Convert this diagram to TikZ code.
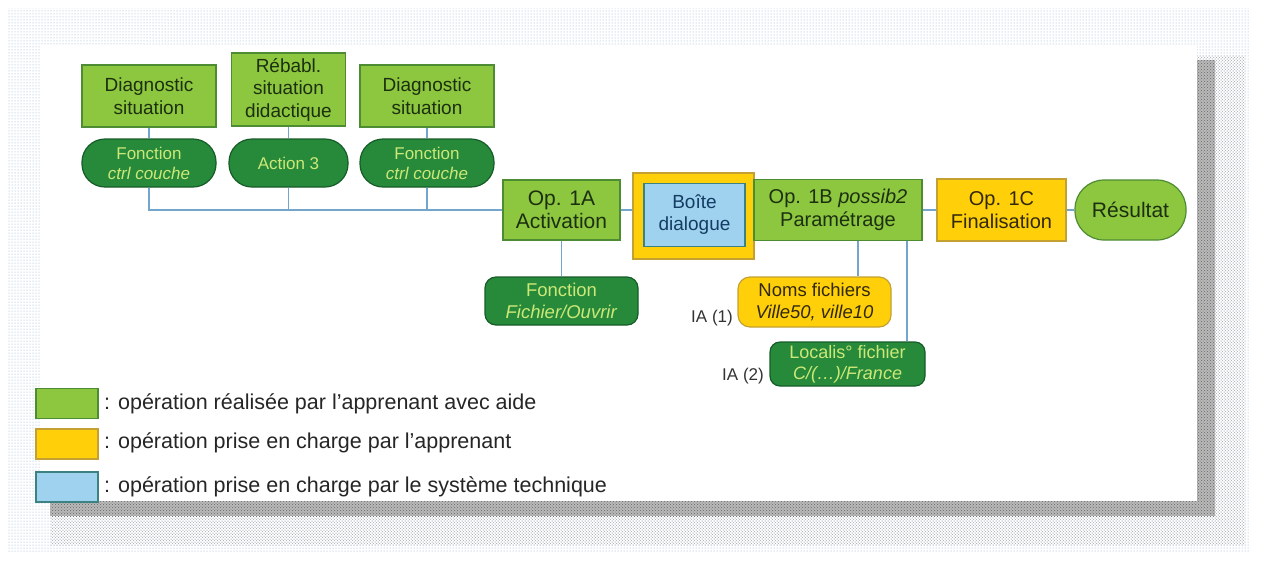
\documentclass[tikz,border=0pt]{standalone}
\usepackage{fontspec}
\setmainfont{Liberation Sans}
\usetikzlibrary{patterns}
\definecolor{lg}{RGB}{141,198,63}
\definecolor{lgborder}{RGB}{78,140,52}
\definecolor{lgtext}{RGB}{28,48,16}
\definecolor{dg}{RGB}{38,138,58}
\definecolor{dgborder}{RGB}{22,92,40}
\definecolor{dgtext}{RGB}{205,232,120}
\definecolor{yl}{RGB}{255,208,10}
\definecolor{ylborder}{RGB}{196,160,50}
\definecolor{yltext}{RGB}{50,40,10}
\definecolor{bl}{RGB}{158,210,238}
\definecolor{blborder}{RGB}{60,130,130}
\definecolor{bltext}{RGB}{20,60,100}
\definecolor{link}{RGB}{115,165,205}
\definecolor{halo}{RGB}{140,175,200}
\begin{document}
\begin{tikzpicture}[x=1pt,y=-1pt,
  base/.style={inner sep=0pt, align=center, line width=1.2pt},
  lgbox/.style={base, draw=lgborder, fill=lg, text=lgtext},
  ylbox/.style={base, draw=ylborder, fill=yl, text=yltext},
  blbox/.style={base, draw=blborder, fill=bl, text=bltext},
  dgpill/.style={base, draw=dgborder, fill=dg, text=dgtext},
  conn/.style={draw=link, line width=1.2pt},
  lgd/.style={base, minimum width=62pt, minimum height=30pt},
  lgdtext/.style={anchor=west, inner sep=0pt, font=\fontsize{21.5}{24}\selectfont, text=black!85},
  ialabel/.style={anchor=east, inner sep=0pt, font=\fontsize{17}{20}\selectfont, text=black!80}
]
\useasboundingbox (0,0) rectangle (1263,566);
\fill[white] (0,0) rectangle (1263,566);
% shadow / halftone frame
\fill[pattern=dots, pattern color=halo] (8,8) rectangle (1250,552);
\fill[pattern=crosshatch dots, pattern color=gray!70] (50,55) rectangle (1245,545);
\fill[gray!55] (50,60) rectangle (1215,516);
\fill[pattern=crosshatch dots, pattern color=gray!80!black] (50,60) rectangle (1215,516);
\fill[white] (40,45) rectangle (1197,501);

% top boxes
\node[lgbox, minimum width=134pt, minimum height=62pt, font=\fontsize{19}{22.5}\selectfont] (d1) at (149,96) {Diagnostic\\situation};
\node[lgbox, minimum width=114pt, minimum height=73pt, font=\fontsize{19}{22.5}\selectfont] (rb) at (288.5,89.5) {Rébabl.\\situation\\didactique};
\node[lgbox, minimum width=134pt, minimum height=62pt, font=\fontsize{19}{22.5}\selectfont] (d2) at (427,96) {Diagnostic\\situation};

% pills
\node[dgpill, rounded corners=23pt, minimum width=134pt, minimum height=48pt, font=\fontsize{17}{20}\selectfont] (p1) at (149,163) {Fonction\\\textit{ctrl couche}};
\node[dgpill, rounded corners=23pt, minimum width=119pt, minimum height=48pt, font=\fontsize{17}{20}\selectfont] (p2) at (288.5,163) {Action 3};
\node[dgpill, rounded corners=23pt, minimum width=134pt, minimum height=48pt, font=\fontsize{17}{20}\selectfont] (p3) at (427,163) {Fonction\\\textit{ctrl couche}};

% main row
\node[lgbox, minimum width=117pt, minimum height=60pt, font=\fontsize{21}{23}\selectfont] (opa) at (561.5,210) {Op. 1A\\Activation};
\node[ylbox, minimum width=121pt, minimum height=86pt] (bxo) at (693.5,216) {};
\node[blbox, minimum width=101pt, minimum height=63pt, font=\fontsize{19}{22}\selectfont] (bx) at (694.5,215) {Boîte\\dialogue};
\node[lgbox, minimum width=168pt, minimum height=61pt, font=\fontsize{20}{23}\selectfont] (opb) at (838,210) {Op. 1B \textit{possib2}\\Paramétrage};
\node[ylbox, minimum width=129pt, minimum height=62pt, font=\fontsize{20}{23}\selectfont] (opc) at (1001.5,210) {Op. 1C\\Finalisation};
\node[lgbox, rounded corners=29pt, minimum width=111pt, minimum height=60pt, font=\fontsize{21}{23}\selectfont] (res) at (1130.5,210) {Résultat};

% lower boxes
\node[dgpill, rounded corners=11pt, minimum width=153pt, minimum height=48pt, font=\fontsize{18.5}{22}\selectfont] (ff) at (561.5,301) {Fonction\\\textit{Fichier/Ouvrir}};
\node[ylbox, rounded corners=12pt, minimum width=153pt, minimum height=50pt, font=\fontsize{18.5}{22}\selectfont] (nf) at (814.5,302) {Noms fichiers\\\textit{Ville50, ville10}};
\node[dgpill, rounded corners=10pt, minimum width=155pt, minimum height=44pt, font=\fontsize{18}{21}\selectfont] (lf) at (847.5,364) {Localis° fichier\\\textit{C/(…)/France}};
\node[ialabel] (ia1) at (733,318) {IA (1)};
\node[ialabel] (ia2) at (764,376) {IA (2)};

% connectors
\draw[conn] (d1.south) -- (p1.north);
\draw[conn] (rb.south) -- (p2.north);
\draw[conn] (d2.south) -- (p3.north);
\draw[conn] (p1.south) |- (opa.west);
\draw[conn] (p2.south) -- (p2.south |- opa.west);
\draw[conn] (p3.south) -- (p3.south |- opa.west);
\draw[conn] (opa.east) -- (opa.east -| bxo.west);
\draw[conn] (opb.east) -- (opc.west);
\draw[conn] (opc.east) -- (res.west);
\draw[conn] (opa.south) -- (ff.north);
\draw[conn] ([xshift=20pt]opb.south) -- ([xshift=20pt]opb.south |- nf.north);
\draw[conn] ([xshift=69pt]opb.south) -- ([xshift=69pt]opb.south |- lf.north);

% legend
\node[lgd, draw=lgborder, fill=lg] (lg1) at (67,403.5) {};
\node[lgd, draw=ylborder, fill=yl] (lg2) at (67,444) {};
\node[lgd, draw=blborder, fill=bl] (lg3) at (67,487) {};
\node[lgdtext] (t1) at (104,404) {: opération réalisée par l'apprenant avec aide};
\node[lgdtext] (t2) at (104,443) {: opération prise en charge par l'apprenant};
\node[lgdtext] (t3) at (104,487) {: opération prise en charge par le système technique};
\end{tikzpicture}
\end{document}
